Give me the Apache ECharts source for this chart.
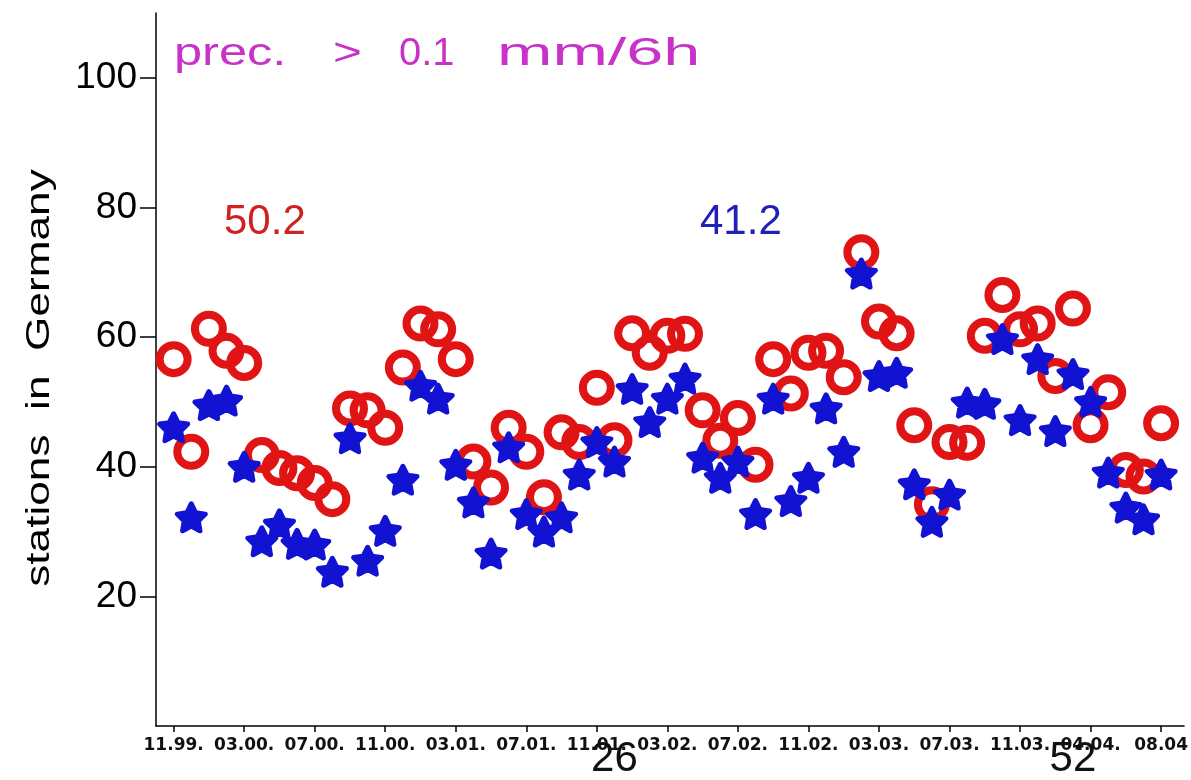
<!DOCTYPE html>
<html>
<head>
<meta charset="utf-8">
<script src="https://cdn.jsdelivr.net/npm/echarts@6/dist/echarts.min.js"></script>
<style>
html,body{margin:0;padding:0;background:#fff;}
#chart{width:1191px;height:780px;}
</style>
</head>
<body>
<div id="chart"></div>
<script>
// x position = month index (11.99 = 1)
var redValues = [56.6,42.3,61.3,57.9,56.0,41.8,39.8,39.0,37.5,35.0,
  49.0,48.7,46.0,55.3,62.1,61.2,56.6,40.8,36.8,46.0,
  42.3,35.3,45.3,43.8,52.2,44.1,60.6,57.6,60.2,60.5,
  48.7,44.0,47.5,40.3,56.6,51.3,57.6,57.9,53.8,73.1,
  62.4,60.6,46.4,34.2,43.8,43.7,60.2,66.5,61.2,62.1,
  54.0,64.4,46.4,51.5,39.5,38.5,46.7];
var blueValues = [46.1,32.2,49.5,50.2,40.0,28.5,31.1,28.1,28.0,23.8,
  44.4,25.5,30.1,38.0,52.5,50.5,40.3,34.5,26.6,43.0,
  32.7,30.0,32.2,38.8,43.8,40.8,52.0,46.9,50.5,53.6,
  41.4,38.3,40.8,32.7,50.5,34.7,38.3,49.0,42.3,69.8,
  54.0,54.5,37.3,31.5,35.7,49.9,49.7,59.7,47.2,56.6,
  45.5,54.3,50.0,39.1,33.7,31.9,38.8];
var tickIndex = [1,5,9,13,17,21,25,29,33,37,41,45,49,53,57];
var tickLabels = ['11.99.','03.00.','07.00.','11.00.','03.01.','07.01.','11.01.','03.02.','07.02.','11.02.','03.03.','07.03.','11.03.','04.04.','08.04'];
var countTicks = [26, 52];
var yTicks = [20, 40, 60, 80, 100];
var redMean = '50.2';
var blueMean = '41.2';

var redData = redValues.map(function(v, i){ return [i + 1, v]; });
var blueData = blueValues.map(function(v, i){ return [i + 1, v]; });

var starPath = 'path://M50,0L64.69,29.77L97.55,34.55L73.78,57.73L79.39,90.45L50,75L20.61,90.45L26.22,57.73L2.45,34.55L35.31,29.77Z';

var chart = echarts.init(document.getElementById('chart'));
var labelMap = {};
tickIndex.forEach(function(t, i){ labelMap[t] = tickLabels[i]; });

chart.setOption({
  backgroundColor: '#fff',
  animation: false,
  grid: {left: 156, right: 1, top: 13, bottom: 46},
  xAxis: [{
    type: 'value', min: 0, max: 58.3,
    splitLine: {show: false},
    axisLine: {show: true, lineStyle: {color: '#000', width: 1.5}},
    axisTick: {show: true, customValues: tickIndex, length: 6, lineStyle: {color: '#000', width: 1.5}},
    axisLabel: {
      customValues: tickIndex, margin: 11,
      formatter: function(v){ return labelMap[v] || ''; },
      fontFamily: 'DejaVu Sans', fontWeight: 'bold', fontSize: 17, color: '#111'
    }
  }, {
    type: 'value', min: 0, max: 58.3, position: 'bottom',
    splitLine: {show: false},
    axisLine: {show: false}, axisTick: {show: false},
    axisLabel: {
      customValues: countTicks, margin: 12,
      formatter: function(v){ return (v === 26 || v === 52) ? String(v) : ''; },
      fontFamily: 'Liberation Sans', fontSize: 42, color: '#111'
    }
  }],
  yAxis: {
    type: 'value', min: 0, max: 110, interval: 10,
    splitLine: {show: false},
    axisLine: {show: true, lineStyle: {color: '#000', width: 1.5}},
    axisTick: {show: true, customValues: yTicks, length: 16, lineStyle: {color: '#000', width: 1.5}},
    axisLabel: {
      customValues: yTicks, margin: 19,
      formatter: function(v){ return (v >= 20 && v <= 100 && v % 20 === 0) ? String(v) : ''; },
      fontFamily: 'Liberation Sans', fontSize: 37, color: '#000'
    }
  },
  graphic: [
    {type: 'text', x: 174, y: 55, scaleX: 1.33, style: {text: 'prec.', font: '38px "Liberation Sans"', fill: '#c832c8', verticalAlign: 'middle'}},
    {type: 'text', x: 333, y: 55, scaleX: 1.3, style: {text: '>', font: '38px "Liberation Sans"', fill: '#c832c8', verticalAlign: 'middle'}},
    {type: 'text', x: 399, y: 55, scaleX: 1.05, style: {text: '0.1', font: '38px "Liberation Sans"', fill: '#c832c8', verticalAlign: 'middle'}},
    {type: 'text', x: 497, y: 55, scaleX: 1.75, style: {text: 'mm/6h', font: '38px "Liberation Sans"', fill: '#c832c8', verticalAlign: 'middle'}},
    {type: 'text', x: 224, y: 222, style: {text: redMean, font: '42px "Liberation Sans"', fill: '#d02020', verticalAlign: 'middle'}},
    {type: 'text', x: 700, y: 222, style: {text: blueMean, font: '42px "Liberation Sans"', fill: '#2020b8', verticalAlign: 'middle'}},
    {type: 'text', x: 40, y: 378, rotation: Math.PI / 2, scaleX: 1.3,
      style: {text: 'stations  in  Germany', font: '34px "Liberation Sans"', fill: '#000', align: 'center', verticalAlign: 'middle'}}
  ],
  series: [{
    type: 'scatter', xAxisIndex: 0, data: redData,
    symbol: 'circle', symbolSize: 28,
    itemStyle: {color: 'rgba(0,0,0,0)', borderColor: '#e01414', borderWidth: 8, opacity: 1},
    emphasis: {disabled: true}, z: 2
  }, {
    type: 'scatter', xAxisIndex: 0, data: blueData,
    symbol: starPath, symbolSize: [28, 27],
    itemStyle: {color: '#1212d2', borderColor: '#1212d2', borderWidth: 5, borderJoin: 'round', opacity: 1},
    emphasis: {disabled: true}, z: 3
  }]
});
</script>
</body>
</html>
